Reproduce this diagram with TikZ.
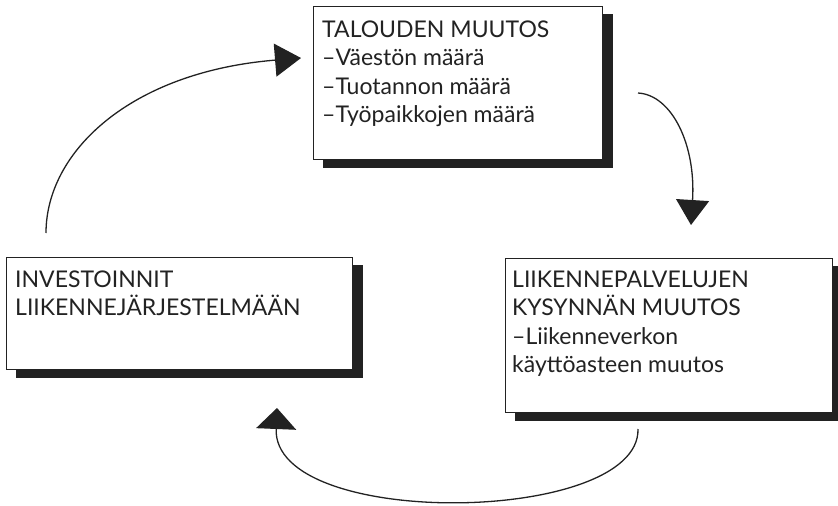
\documentclass[tikz,border=0pt]{standalone}
\usepackage{fontspec}
\setmainfont{Lato}
\usetikzlibrary{arrows.meta,backgrounds}
\definecolor{ink}{HTML}{222222}
\begin{document}
\begin{tikzpicture}[x=1pt,y=-1pt,
  box/.style={draw=ink, line width=1.3pt, fill=white, inner sep=0pt, anchor=north west},
  shadowfill/.style={fill=ink},
  txt/.style={anchor=base west, inner sep=0pt, align=left, font=\fontsize{23}{28.6}\selectfont, text=ink},
  conn/.style={draw=ink, line width=1.3pt}]
\useasboundingbox (0,0) rectangle (838,506);
% boxes
\node[box, minimum width=289pt, minimum height=153pt] (top) at (313,6) {};
\node[box, minimum width=346pt, minimum height=112pt] (left) at (6,257) {};
\node[box, minimum width=327pt, minimum height=154pt] (right) at (505,258) {};
\begin{scope}[on background layer]
  \foreach \b in {top,left,right}{
    \fill[shadowfill] ([xshift=10pt,yshift=-8pt]\b.south west) rectangle ([xshift=10pt,yshift=-8pt]\b.north east);
  }
\end{scope}
% texts (anchored at the baseline of the last line)
\node[txt] (ttop) at (322,122.8) {TALOUDEN MUUTOS\\–Väestön määrä\\–Tuotannon määrä\\–Työpaikkojen määrä};
\node[txt] (tleft) at (15,315.6) {INVESTOINNIT\\LIIKENNEJÄRJESTELMÄÄN};
\node[txt] (tright) at (512,372.8) {LIIKENNEPALVELUJEN\\KYSYNNÄN MUUTOS\\–Liikenneverkon\\käyttöasteen muutos};
% connector end points
\coordinate (a1s) at (46,233);
\coordinate (a1e) at (301,58);
\coordinate (a2s) at (638,93);
\coordinate (a2e) at (691,225);
\coordinate (a3s) at (638,429);
\coordinate (a3e) at (277,408);
% connectors
\draw[conn, -{Triangle[length=26pt,width=33pt]}] (a1s) .. controls (46,152) and (130,72) .. (a1e);
\draw[conn, -{Triangle[length=25pt,width=33pt]}] (a2s) .. controls (672,95) and (696,145) .. (a2e);
\draw[conn, -{Triangle[length=21pt,width=40pt]}] (a3s) .. controls (640,525) and (272,530) .. (a3e);
\end{tikzpicture}
\end{document}
